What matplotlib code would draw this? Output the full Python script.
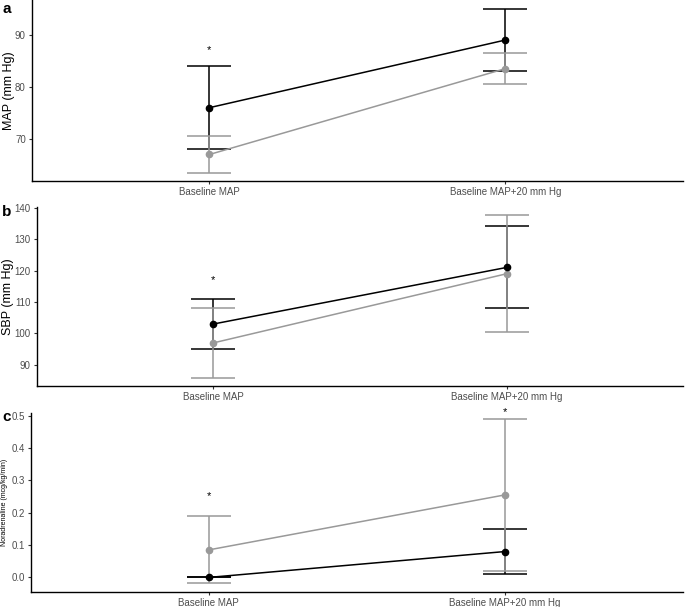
import numpy as np
import matplotlib.pyplot as plt

plt.rcParams['font.family'] = ['Liberation Sans', 'DejaVu Sans']

# categories on the x axis
categories = ["Baseline MAP", "Baseline MAP+20 mm Hg"]

# panel a: MAP
map_black = [76, 89]
map_black_lo = [68, 83]
map_black_hi = [84, 95]
map_grey = [67, 83.5]
map_grey_lo = [63.5, 80.5]
map_grey_hi = [70.5, 86.5]

# panel b: SBP
sbp_black = [103, 121]
sbp_black_lo = [95, 108]
sbp_black_hi = [111, 134]
sbp_grey = [97, 119]
sbp_grey_lo = [86, 100.5]
sbp_grey_hi = [108, 137.5]

# panel c: noradrenaline
nor_black = [0.0, 0.08]
nor_black_lo = [0.0, 0.01]
nor_black_hi = [0.0, 0.15]
nor_grey = [0.085, 0.255]
nor_grey_lo = [-0.018, 0.02]
nor_grey_hi = [0.19, 0.49]

# significance stars (category index, y)
map_stars = [(0, 87)]
sbp_stars = [(0, 117)]
nor_stars = [(0, 0.25), (1, 0.51)]

BLACK = "black"
GREY = "#999999"
TICKCOL = "#4D4D4D"

W, H = 685, 607
fig = plt.figure(figsize=(W / 100, H / 100), dpi=100)

panels = [
    dict(rect=[0.0467, 0.7018, 0.950, 0.2982], letter="a", lety=0.996, ylabel="MAP (mm Hg)", ylsize=9, labx=9,
         black=(map_black, map_black_lo, map_black_hi), grey=(map_grey, map_grey_lo, map_grey_hi),
         ylim=(61.9, 96.7), yticks=[70, 80, 90], fmt="{:.0f}", stars=map_stars),
    dict(rect=[0.054, 0.364, 0.943, 0.295], letter="b", lety=0.663, ylabel="SBP (mm Hg)", ylsize=9, labx=8,
         black=(sbp_black, sbp_black_lo, sbp_black_hi), grey=(sbp_grey, sbp_grey_lo, sbp_grey_hi),
         ylim=(83.3, 140.2), yticks=[90, 100, 110, 120, 130, 140], fmt="{:.0f}", stars=sbp_stars),
    dict(rect=[0.045, 0.0247, 0.952, 0.295], letter="c", lety=0.324, ylabel="Noradrenaline (mcg/kg/min)", ylsize=5, labx=5,
         black=(nor_black, nor_black_lo, nor_black_hi), grey=(nor_grey, nor_grey_lo, nor_grey_hi),
         ylim=(-0.045, 0.508), yticks=[0.0, 0.1, 0.2, 0.3, 0.4, 0.5], fmt="{:.1f}", stars=nor_stars),
]

x = np.arange(len(categories)) + 1

for p in panels:
    ax = fig.add_axes(p["rect"])
    for col, (m, lo, hi) in [(BLACK, p["black"]), (GREY, p["grey"])]:
        m = np.array(m)
        yerr = [m - np.array(lo), np.array(hi) - m]
        ax.errorbar(x, m, yerr=yerr, fmt="none", ecolor=col, elinewidth=1.1,
                    capsize=16, capthick=1.1, zorder=2)
    for col, (m, lo, hi) in [(GREY, p["grey"]), (BLACK, p["black"])]:
        ax.plot(x, m, color=col, lw=1.1, zorder=3)
        ax.plot(x, m, "o", color=col, ms=4.5, zorder=4)
    for i, yv in p["stars"]:
        ax.text(x[i], yv, "*", ha="center", va="center", fontsize=8, color="black", clip_on=False)

    ax.set_xlim(0.4, 2.6)
    ax.set_ylim(*p["ylim"])
    ax.set_xticks(x)
    ax.set_xticklabels(categories)
    ax.set_yticks(p["yticks"])
    ax.set_yticklabels([p["fmt"].format(v) for v in p["yticks"]])
    ax.tick_params(axis="both", labelsize=7, labelcolor=TICKCOL, color="#333333",
                   length=2.5, width=0.8, pad=2)
    ax.set_ylabel(p["ylabel"], fontsize=p["ylsize"], va="center")
    ax.yaxis.set_label_coords(p["labx"] / W, p["rect"][1] + p["rect"][3] / 2,
                              transform=fig.transFigure)
    for s in ["top", "right"]:
        ax.spines[s].set_visible(False)
    for s in ["left", "bottom"]:
        ax.spines[s].set_linewidth(1.0)
    fig.text(0.003, p["lety"], p["letter"], fontsize=11, fontweight="bold",
             ha="left", va="top")

fig.savefig("out.png", dpi=100)
